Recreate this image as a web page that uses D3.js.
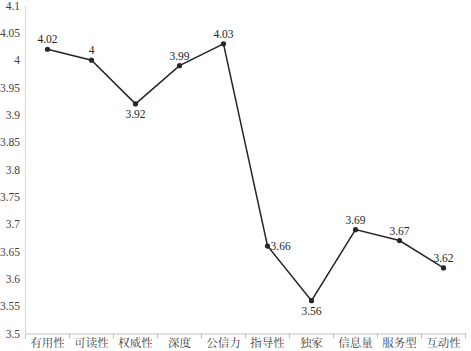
<!DOCTYPE html>
<html><head><meta charset="utf-8">
<script src="https://cdn.jsdelivr.net/npm/d3@7"></script>
<style>body{margin:0;background:#fff}svg{display:block}</style>
</head><body>
<svg id="c" width="471" height="351"></svg>
<script>
const categories = ["有用性","可读性","权威性","深度","公信力","指导性","独家","信息量","服务型","互动性"];
const values = [4.02,4,3.92,3.99,4.03,3.66,3.56,3.69,3.67,3.62];
const yTicks = [3.5,3.55,3.6,3.65,3.7,3.75,3.8,3.85,3.9,3.95,4,4.05,4.1];
const labelPos = ["above","above","below","above","above","right","below","above","above","above"];

const FONT = "'Liberation Serif', 'Noto Serif CJK SC', 'Noto Sans CJK SC', serif";
const svg = d3.select("#c");
const x = d3.scaleBand().domain(categories).range([25.5, 465.5]);
const y = d3.scaleLinear().domain([3.5, 4.1]).range([333.5, 5.5]);

svg.append("line").attr("x1",25.5).attr("x2",25.5).attr("y1",y(4.1)).attr("y2",y(3.5))
  .attr("stroke","#d9d9d9").attr("stroke-width",1);
svg.selectAll(".yl").data(yTicks).enter().append("text")
  .attr("x",20).attr("y",d=>y(d)).attr("dy","0.35em").attr("text-anchor","end")
  .style("font-family",FONT).style("font-size","11.5px").attr("fill","#404040")
  .text(d=>String(+d.toFixed(2)));

const xAxis = d3.axisBottom(x).tickSize(0).tickPadding(5);
const gx = svg.append("g").attr("transform",`translate(0,${y(3.5)})`).call(xAxis);
gx.select(".domain").attr("stroke","#bfbfbf");
gx.selectAll("text").style("font-family",FONT).style("font-size","11.5px").attr("fill","#404040");
const bounds = categories.map(c=>x(c)).concat([x.range()[1]]);
gx.selectAll(".bd").data(bounds).enter().append("line")
  .attr("x1",d=>d).attr("x2",d=>d).attr("y1",0).attr("y2",5).attr("stroke","#bfbfbf");

const line = d3.line().x((d,i)=>x(categories[i])+x.bandwidth()/2).y(d=>y(d));
svg.append("path").datum(values).attr("d",line).attr("fill","none")
  .attr("stroke","#262626").attr("stroke-width",1.5);
svg.selectAll(".pt").data(values).enter().append("circle")
  .attr("cx",(d,i)=>x(categories[i])+x.bandwidth()/2).attr("cy",d=>y(d)).attr("r",2.6)
  .attr("fill","#262626");
svg.selectAll(".vl").data(values).enter().append("text")
  .attr("x",(d,i)=>x(categories[i])+x.bandwidth()/2 + (labelPos[i]==="right"?3:0))
  .attr("y",(d,i)=>y(d) + (labelPos[i]==="above"?-6:labelPos[i]==="below"?14:4))
  .attr("text-anchor",(d,i)=>labelPos[i]==="right"?"start":"middle")
  .style("font-family",FONT).style("font-size","11.5px").attr("fill","#262626")
  .text(d=>d);
</script>
</body></html>
